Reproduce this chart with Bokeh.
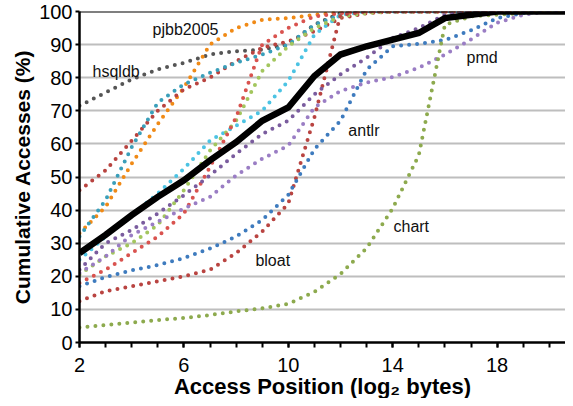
from bokeh.plotting import figure
from bokeh.models import FixedTicker, Span, Range1d, Title
from bokeh.core.properties import value
from bokeh.embed import file_html
from bokeh.resources import INLINE

# x: access position (log2 bytes)
x_pos = list(range(2, 22))

hsqldb = [71.5, 75.5, 79.5, 82.5, 84.5, 87, 88, 88.5, 90, 96, 99.5, 100, 100, 100, 100, 100, 100, 100, 100, 100]
pjbb2005 = [33, 41, 54, 66, 77, 90, 95, 97.5, 98, 99, 99.8, 100, 100, 100, 100, 100, 100, 100, 100, 100]
red_a = [46, 52, 61, 70, 76.5, 80, 85, 89, 91, 94, 98, 99.5, 100, 100, 100, 100, 100, 100, 100, 100]
teal_a = [32, 43, 59, 72.5, 78, 81.5, 84.5, 87, 90, 96, 99, 100, 100, 100, 100, 100, 100, 100, 100, 100]
cyan_b = [25, 32, 38.5, 45, 52.5, 61, 65.5, 70, 79, 93, 99, 100, 100, 100, 100, 100, 100, 100, 100, 100]
green_b = [20.5, 26, 30, 35.5, 46, 58, 67, 82, 89.5, 95, 98.5, 99.5, 100, 100, 100, 100, 100, 100, 100, 100]
red_b = [18, 22, 27, 32, 39, 53, 68, 90, 95, 98.5, 99.5, 100, 100, 100, 100, 100, 100, 100, 100, 100]
bloat = [12.5, 15.5, 17, 18.5, 20, 22, 27, 33.5, 42, 68, 99, 100, 100, 100, 100, 100, 100, 100, 100, 100]
antlr = [17, 19.8, 21.8, 23.4, 25.5, 28.4, 32, 37, 44.6, 58.4, 67, 82.4, 89.5, 90.2, 91.4, 94.3, 98, 99.5, 100, 100]
purple_a = [22, 30, 34, 39, 44.5, 50.5, 57, 63, 67, 75, 81, 86, 92, 95, 99, 100, 100, 100, 100, 100]
pmd = [21, 26, 32.5, 36.5, 40.5, 44, 50.5, 55.5, 59.5, 71, 76, 78.5, 80.2, 83, 87, 91.6, 96.6, 99, 100, 100]
chart = [4.5, 5.3, 6, 6.8, 7.4, 8.3, 9.4, 10.3, 11.7, 15.3, 20.7, 28.5, 40.5, 56.6, 96, 98.5, 99, 99.5, 100, 100]
average = [27, 32.5, 38.5, 44, 49, 55, 60.5, 67, 71, 80.5, 87, 89.5, 91.5, 93.5, 98, 99, 100, 100, 100, 100]

series = [
    (hsqldb, "#555555"),
    (pjbb2005, "#F08A16"),
    (red_a, "#B8433F"),
    (teal_a, "#3A9FBA"),
    (cyan_b, "#4CC3E3"),
    (green_b, "#A3C65E"),
    (red_b, "#D9534F"),
    (bloat, "#B94441"),
    (antlr, "#3E7BBE"),
    (purple_a, "#7A5C9E"),
    (pmd, "#9A7DC4"),
    (chart, "#8DAA4E"),
]

label_text = ["pjbb2005", "hsqldb", "antlr", "bloat", "chart", "pmd"]
label_x = [4.8, 2.5, 12.3, 8.74, 14.03, 16.83]
label_y = [94.6, 82.0, 64.0, 24.8, 35.0, 86.2]

x_title = "Access Position (log\u2082 bytes)"
y_title = "Cumulative Accesses (%)"

y_ticks = list(range(0, 101, 10))
x_major = [2, 6, 10, 14, 18]
x_minor = list(range(2, 22))

p = figure(width=565, height=398, output_backend="svg", toolbar_location=None,
           x_range=Range1d(2, 20.62), y_range=Range1d(0, 100),
           min_border_left=79, min_border_right=0, min_border_top=11, min_border_bottom=56)
p.outline_line_color = None
p.background_fill_color = "white"
p.border_fill_color = "white"
p.xgrid.grid_line_color = None
p.ygrid.grid_line_color = "#BEBEBE"
p.ygrid.grid_line_width = 2

p.yaxis.ticker = FixedTicker(ticks=y_ticks)
p.xaxis.ticker = FixedTicker(ticks=x_major, minor_ticks=x_minor)

for ax in (p.xaxis[0], p.yaxis[0]):
    ax.axis_line_color = "black"
    ax.axis_line_width = 2.5
    ax.major_tick_line_color = "black"
    ax.major_tick_line_width = 2
    ax.minor_tick_line_color = "black"
    ax.minor_tick_line_width = 2
    ax.major_tick_in = 0
    ax.minor_tick_in = 0
    ax.major_label_text_font = "Liberation Sans"
    ax.major_label_text_font_size = "20px"
    ax.major_label_text_color = "black"

p.xaxis.major_tick_out = 5
p.xaxis.minor_tick_out = 5
p.xaxis.major_label_standoff = 10

p.yaxis.major_tick_out = 4
p.yaxis.minor_tick_out = 0
p.yaxis.major_label_standoff = 3

p.add_layout(Title(text=x_title, align="center", offset=28, standoff=-6,
                   text_font="Liberation Sans", text_font_style="bold",
                   text_font_size="22px", text_color="black"), "below")
p.add_layout(Title(text=y_title, align="center", offset=14, standoff=5,
                   text_font="Liberation Sans", text_font_style="bold",
                   text_font_size="21px", text_color="black"), "left")

for ys, col in series:
    p.line(x_pos, ys, line_color=col, line_width=4, line_dash="0 8", line_cap="round")

p.line(x_pos, average, line_color="black", line_width=6.5, line_join="miter")

p.add_layout(Span(location=100, dimension="width", line_color="black", line_width=2))

p.text(x=label_x, y=label_y, text=label_text, text_font=value("Liberation Sans"),
       text_font_size="16px", text_color="#111111", text_baseline="alphabetic", text_align="left")

open("out.html", "w").write(file_html(p, INLINE))
